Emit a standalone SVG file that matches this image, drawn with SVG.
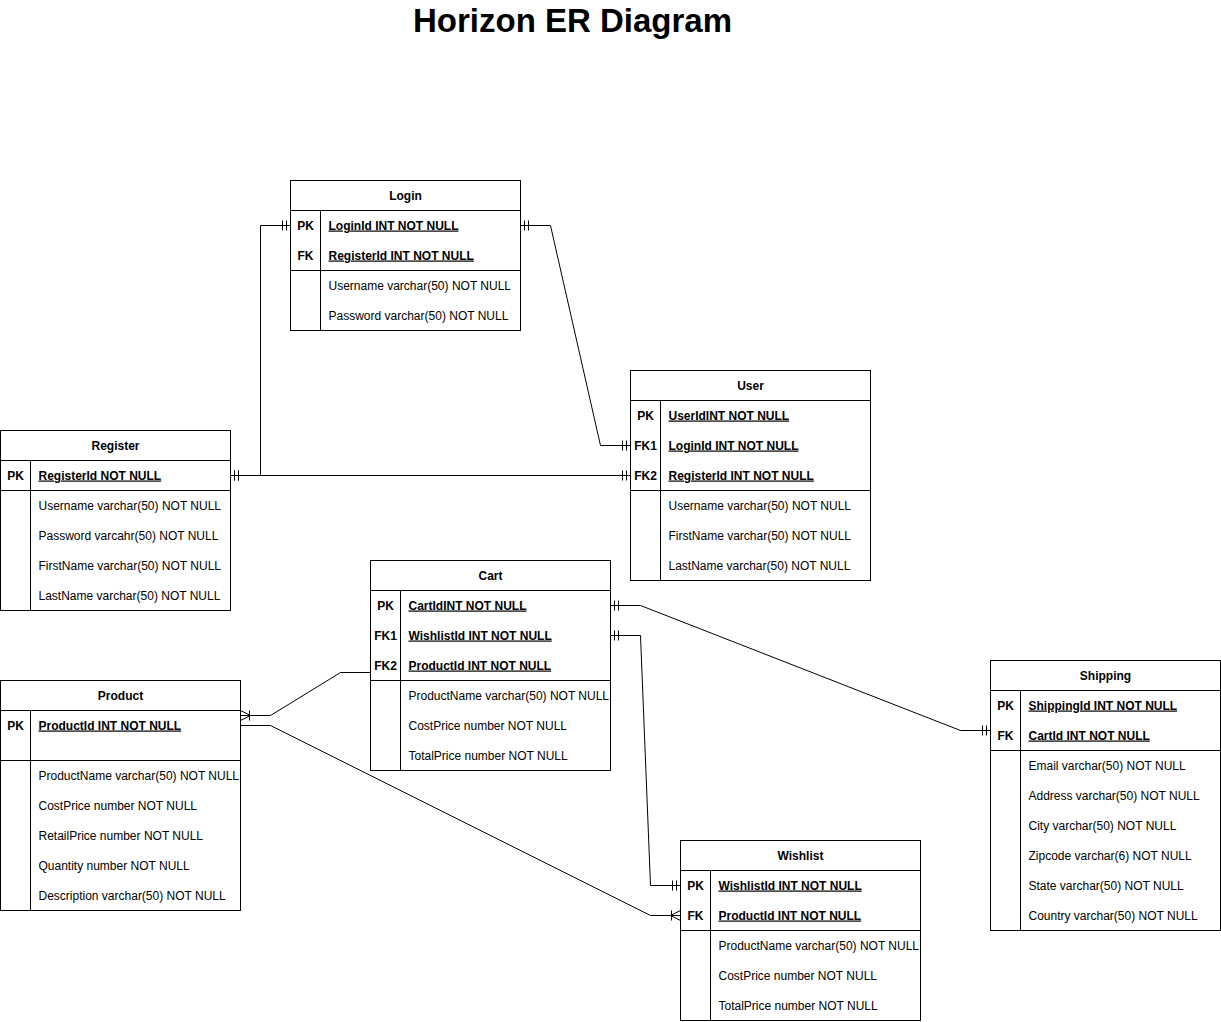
<svg xmlns="http://www.w3.org/2000/svg" width="1221" height="1022" viewBox="0 0 1221 1022">
<style>
text{font-family:"Liberation Sans",Arial,Helvetica,sans-serif;font-size:12px;fill:#000}
.ttl{font-size:33px;font-weight:bold;text-anchor:middle}
.th{font-weight:bold;text-anchor:middle}
.k{font-weight:bold;text-anchor:middle}
.pk{font-weight:bold;text-decoration:underline}
.box{fill:#fff;stroke:#000;stroke-width:1}
.ln{stroke:#000;stroke-width:1;fill:none}
.cn{stroke:#000;stroke-width:1;fill:none}
.one{marker-start:url(#mandOne);marker-end:url(#mandOne)}
</style>
<defs>
<marker id="mandOne" markerUnits="userSpaceOnUse" markerWidth="20" markerHeight="20" viewBox="-10 -10 20 20" refX="0" refY="0" orient="auto-start-reverse">
<path d="M-4,-5V5M-8,-5V5" stroke="#000" stroke-width="1" fill="none"/>
</marker>
<marker id="oneMany" markerUnits="userSpaceOnUse" markerWidth="24" markerHeight="24" viewBox="-12 -12 24 24" refX="0" refY="0" orient="auto">
<path d="M0,-5L-10,0L0,5M-9,-5V5" stroke="#000" stroke-width="1" fill="none"/>
</marker>
</defs>
<rect width="1221" height="1022" fill="#fff"/>
<text class="ttl" x="572.5" y="32">Horizon ER Diagram</text>
<g transform="translate(0.5,0.5)">
<g id="connectors">
<path class="cn one" d="M230,475H260V225H290"/>
<path class="cn one" d="M230,475H630"/>
<path class="cn one" d="M520,225H550L600,445H630"/>
<path class="cn one" d="M610,605H640L960,730H990"/>
<path class="cn one" d="M610,635H640L650,885H680"/>
<path class="cn" d="M370,672H340L270,715H240" marker-end="url(#oneMany)"/>
<path class="cn" d="M240,725H270L650,915H680" marker-end="url(#oneMany)"/>
</g>
<g id="login">
<rect class="box" x="290" y="180" width="230" height="150"/>
<path class="ln" d="M290,210H520M290,270H520M320,210V330"/>
<text class="th" x="405" y="199">Login</text>
<text class="k" x="305" y="229">PK</text><text class="pk" x="328" y="229">LoginId INT NOT NULL</text>
<text class="k" x="305" y="259">FK</text><text class="pk" x="328" y="259">RegisterId INT NOT NULL</text>
<text x="328" y="289">Username varchar(50) NOT NULL</text>
<text x="328" y="319">Password varchar(50) NOT NULL</text>
</g>
<g id="user">
<rect class="box" x="630" y="370" width="240" height="210"/>
<path class="ln" d="M630,400H870M630,490H870M660,400V580"/>
<text class="th" x="750" y="389">User</text>
<text class="k" x="645" y="419">PK</text><text class="pk" x="668" y="419">UserIdINT NOT NULL</text>
<text class="k" x="645" y="449">FK1</text><text class="pk" x="668" y="449">LoginId INT NOT NULL</text>
<text class="k" x="645" y="479">FK2</text><text class="pk" x="668" y="479">RegisterId INT NOT NULL</text>
<text x="668" y="509">Username varchar(50) NOT NULL</text>
<text x="668" y="539">FirstName varchar(50) NOT NULL</text>
<text x="668" y="569">LastName varchar(50) NOT NULL</text>
</g>
<g id="register">
<rect class="box" x="0" y="430" width="230" height="180"/>
<path class="ln" d="M0,460H230M0,490H230M30,460V610"/>
<text class="th" x="115" y="449">Register</text>
<text class="k" x="15" y="479">PK</text><text class="pk" x="38" y="479">RegisterId NOT NULL</text>
<text x="38" y="509">Username varchar(50) NOT NULL</text>
<text x="38" y="539">Password varcahr(50) NOT NULL</text>
<text x="38" y="569">FirstName varchar(50) NOT NULL</text>
<text x="38" y="599">LastName varchar(50) NOT NULL</text>
</g>
<g id="cart">
<rect class="box" x="370" y="560" width="240" height="210"/>
<path class="ln" d="M370,590H610M370,680H610M400,590V770"/>
<text class="th" x="490" y="579">Cart</text>
<text class="k" x="385" y="609">PK</text><text class="pk" x="408" y="609">CartIdINT NOT NULL</text>
<text class="k" x="385" y="639">FK1</text><text class="pk" x="408" y="639">WishlistId INT NOT NULL</text>
<text class="k" x="385" y="669">FK2</text><text class="pk" x="408" y="669">ProductId INT NOT NULL</text>
<text x="408" y="699">ProductName varchar(50) NOT NULL</text>
<text x="408" y="729">CostPrice number NOT NULL</text>
<text x="408" y="759">TotalPrice number NOT NULL</text>
</g>
<g id="product">
<rect class="box" x="0" y="680" width="240" height="230"/>
<path class="ln" d="M0,710H240M0,760H240M30,710V910"/>
<text class="th" x="120" y="699">Product</text>
<text class="k" x="15" y="729">PK</text><text class="pk" x="38" y="729">ProductId INT NOT NULL</text>
<text x="38" y="779">ProductName varchar(50) NOT NULL</text>
<text x="38" y="809">CostPrice number NOT NULL</text>
<text x="38" y="839">RetailPrice number NOT NULL</text>
<text x="38" y="869">Quantity number NOT NULL</text>
<text x="38" y="899">Description varchar(50) NOT NULL</text>
</g>
<g id="shipping">
<rect class="box" x="990" y="660" width="230" height="270"/>
<path class="ln" d="M990,690H1220M990,750H1220M1020,690V930"/>
<text class="th" x="1105" y="679">Shipping</text>
<text class="k" x="1005" y="709">PK</text><text class="pk" x="1028" y="709">ShippingId INT NOT NULL</text>
<text class="k" x="1005" y="739">FK</text><text class="pk" x="1028" y="739">CartId INT NOT NULL</text>
<text x="1028" y="769">Email varchar(50) NOT NULL</text>
<text x="1028" y="799">Address varchar(50) NOT NULL</text>
<text x="1028" y="829">City varchar(50) NOT NULL</text>
<text x="1028" y="859">Zipcode varchar(6) NOT NULL</text>
<text x="1028" y="889">State varchar(50) NOT NULL</text>
<text x="1028" y="919">Country varchar(50) NOT NULL</text>
</g>
<g id="wishlist">
<rect class="box" x="680" y="840" width="240" height="180"/>
<path class="ln" d="M680,870H920M680,930H920M710,870V1020"/>
<text class="th" x="800" y="859">Wishlist</text>
<text class="k" x="695" y="889">PK</text><text class="pk" x="718" y="889">WishlistId INT NOT NULL</text>
<text class="k" x="695" y="919">FK</text><text class="pk" x="718" y="919">ProductId INT NOT NULL</text>
<text x="718" y="949">ProductName varchar(50) NOT NULL</text>
<text x="718" y="979">CostPrice number NOT NULL</text>
<text x="718" y="1009">TotalPrice number NOT NULL</text>
</g>
</g>
</svg>
